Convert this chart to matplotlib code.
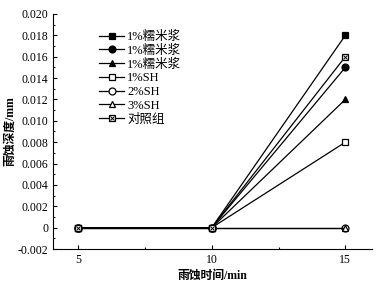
import matplotlib.pyplot as plt
from matplotlib.legend_handler import HandlerTuple

plt.rcParams['font.family'] = ['Liberation Serif', 'Noto Sans CJK SC']

times = [5, 10, 15]
labels = ['1%糯米浆', '1%糯米浆', '1%糯米浆', '1%SH', '2%SH', '3%SH', '对照组']
depths = [
    [0, 0, 0.018],
    [0, 0, 0.015],
    [0, 0, 0.012],
    [0, 0, 0.008],
    [0, 0, 0.0],
    [0, 0, 0.0],
    [0, 0, 0.016],
]
markers = ['s', 'o', '^', 's', 'o', '^', 's']
filled = [True, True, True, False, False, False, False]

fig = plt.figure(figsize=(3.77, 2.84), dpi=100)
ax = fig.add_axes([0.141, 0.123, 0.846, 0.828])

handles = []
for i in range(len(labels)):
    fc = 'black' if filled[i] else 'white'
    line, = ax.plot(times, depths[i], color='black', lw=0.9, marker=markers[i],
                    markersize=5, markerfacecolor=fc, markeredgecolor='black',
                    markeredgewidth=0.9, zorder=3 + i)
    if labels[i] == '对照组':
        cross, = ax.plot(times, depths[i], ls='none', marker='x', markersize=3.2,
                         color='black', markeredgewidth=0.7, zorder=11)
        handles.append((line, cross))
    else:
        handles.append(line)

ax.set_xlim(4.07, 16.0)
ax.set_ylim(-0.002, 0.020)
ax.set_xticks([5, 10, 15])
ax.set_xticks([7.5, 12.5], minor=True)
ax.set_yticks([-0.002, 0, 0.002, 0.004, 0.006, 0.008, 0.010, 0.012, 0.014,
               0.016, 0.018, 0.020])
ax.set_yticklabels(['-0.002', '0', '0.002', '0.004', '0.006', '0.008', '0.010',
                    '0.012', '0.014', '0.016', '0.018', '0.020'])
ax.set_yticks([i * 0.001 - 0.002 for i in range(23)], minor=True)
ax.tick_params(direction='in', labelsize=8.5, length=3, width=0.8)
ax.tick_params(which='minor', direction='in', length=1.5, width=0.8)
ax.spines['top'].set_visible(False)
ax.spines['right'].set_visible(False)

ax.set_xlabel('雨蚀时间/min', fontsize=8.5, fontweight='bold', labelpad=3)
ax.set_ylabel('雨蚀深度/mm', fontsize=8.5, fontweight='bold', labelpad=1)

ax.legend(handles, labels, loc='upper left', bbox_to_anchor=(0.11, 0.975),
          frameon=False, fontsize=9, handlelength=2.0, handletextpad=0.2,
          labelspacing=0.14, handler_map={tuple: HandlerTuple(ndivide=1)})

fig.savefig('out.png', dpi=100)
